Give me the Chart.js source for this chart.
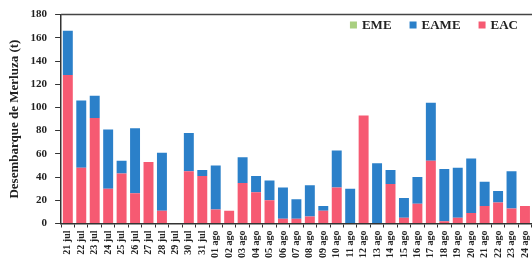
<!DOCTYPE html>
<html>
<head>
<meta charset="utf-8">
<script src="https://cdn.jsdelivr.net/npm/chart.js@4"></script>
<style>
  html, body { margin: 0; padding: 0; background: #fff; overflow: hidden; }
  #wrap { width: 540px; height: 269px; }
</style>
</head>
<body>
<div id="wrap"><canvas id="chart" width="540" height="269"></canvas></div>
<script>
const DAYS = [
  "21 jul", "22 jul", "23 jul", "24 jul", "25 jul", "26 jul", "27 jul", "28 jul", "29 jul", "30 jul", "31 jul",
  "01 ago", "02 ago", "03 ago", "04 ago", "05 ago", "06 ago", "07 ago", "08 ago", "09 ago", "10 ago",
  "11 ago", "12 ago", "13 ago", "14 ago", "15 ago", "16 ago", "17 ago", "18 ago", "19 ago", "20 ago",
  "21 ago", "22 ago", "23 ago", "24 ago",
];

const EAC = [128, 48, 91, 30, 43, 26, 53, 11, 0, 45, 41, 12, 11, 35, 27, 20, 4, 4, 6, 11, 31,
  0, 93, 0, 34, 5, 17, 54, 2, 5, 9, 15, 18, 13, 15];
const EAME = [38, 58, 19, 51, 11, 56, 0, 50, 0, 33, 5, 38, 0, 22, 14, 17, 27, 17, 27, 4, 32,
  30, 0, 52, 12, 17, 23, 50, 45, 43, 47, 21, 10, 32, 0];
const EME = DAYS.map(() => 0);

const Y_TICKS = [0, 20, 40, 60, 80, 100, 120, 140, 160, 180];

const RED = "#F65A72";
const BLUE = "#2B80C9";
const GREEN = "#A9CF80";
const FONT = "'Liberation Serif', 'DejaVu Serif', serif";

// top frame line + legend drawn inside the plot, top right
const extras = {
  id: "extras",
  afterDraw(chart) {
    const { ctx, chartArea } = chart;
    ctx.save();
    ctx.strokeStyle = "#444";
    ctx.lineWidth = 1.5;
    ctx.beginPath();
    ctx.moveTo(chartArea.left, chartArea.top);
    ctx.lineTo(chartArea.right + 5, chartArea.top);
    ctx.stroke();

    const items = chart.data.datasets.slice().reverse();
    ctx.font = "bold 13px " + FONT;
    ctx.textBaseline = "middle";
    const box = 7, gap = 5, space = 18;
    let total = 0;
    items.forEach((d) => (total += box + gap + ctx.measureText(d.label).width + space));
    total -= space;
    let x = 518 - total;
    const y = 25;
    items.forEach((d) => {
      ctx.fillStyle = d.backgroundColor;
      ctx.fillRect(x, y - box / 2, box, box);
      x += box + gap;
      ctx.fillStyle = "#222";
      ctx.fillText(d.label, x, y + 1);
      x += ctx.measureText(d.label).width + space;
    });
    ctx.restore();
  },
};

const $ctx = document.getElementById("chart");

new Chart($ctx, {
  type: "bar",
  data: {
    labels: DAYS,
    datasets: [
      { label: "EAC", data: EAC, backgroundColor: RED },
      { label: "EAME", data: EAME, backgroundColor: BLUE },
      { label: "EME", data: EME, backgroundColor: GREEN },
    ],
  },
  options: {
    responsive: false,
    animation: false,
    categoryPercentage: 1,
    barPercentage: 0.74,
    layout: { padding: { top: 0, left: 7, right: 2, bottom: 8 } },
    plugins: {
      tooltip: { enabled: false },
      legend: { display: false },
    },
    scales: {
      x: {
        stacked: true,
        grid: {
          display: true,
          drawOnChartArea: false,
          tickLength: 4,
          color: "#333",
        },
        border: { display: true, color: "#333", width: 1.5 },
        ticks: {
          autoSkip: false,
          minRotation: 90,
          maxRotation: 90,
          padding: 3,
          color: "#222",
          font: { family: FONT, size: 10, weight: "bold" },
        },
      },
      y: {
        stacked: true,
        min: 0,
        max: 180,
        afterBuildTicks: (axis) => {
          axis.ticks = Y_TICKS.map((v) => ({ value: v }));
        },
        grid: {
          display: true,
          drawOnChartArea: false,
          tickLength: 6,
          color: "#333",
        },
        border: { display: true, color: "#333", width: 1.5 },
        ticks: {
          padding: 8,
          color: "#222",
          font: { family: FONT, size: 11, weight: "bold" },
        },
        title: {
          display: true,
          text: "Desembarque de Merluza (t)",
          color: "#222",
          padding: { top: 0, bottom: 0 },
          font: { family: FONT, size: 13, weight: "bold" },
        },
      },
    },
  },
  plugins: [extras],
});
</script>
</body>
</html>
